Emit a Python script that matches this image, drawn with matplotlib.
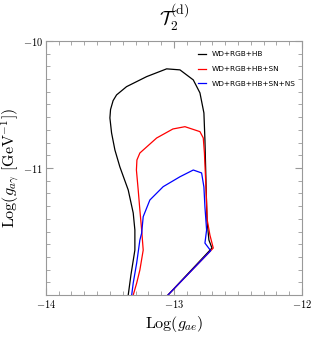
import numpy as np
import matplotlib.pyplot as plt
from matplotlib.ticker import MultipleLocator

plt.rcParams['mathtext.fontset'] = 'cm'
plt.rcParams['font.family'] = 'serif'
plt.rcParams['font.serif'] = ['DejaVu Serif']

# contour traces (Log g_ae, Log g_agamma)
black_x = [-13.357, -13.336, -13.305, -13.305, -13.318, -13.357, -13.422, -13.461, -13.487,
           -13.500, -13.495, -13.475, -13.448, -13.370, -13.213, -13.057, -12.953, -12.849,
           -12.797, -12.766, -12.758, -12.750, -12.742, -12.727, -12.703, -13.047]
black_y = [-12.0, -11.843, -11.646, -11.488, -11.354, -11.173, -10.992, -10.858, -10.724,
           -10.606, -10.540, -10.470, -10.425, -10.360, -10.281, -10.220, -10.228, -10.307,
           -10.409, -10.567, -10.780, -11.094, -11.409, -11.567, -11.630, -12.0]

red_x = [-13.318, -13.291, -13.266, -13.240, -13.252, -13.266, -13.279, -13.293, -13.289,
         -13.266, -13.135, -13.008, -12.914, -12.797, -12.771, -12.762, -12.750, -12.740,
         -12.719, -12.693, -13.047]
red_y = [-12.0, -11.906, -11.803, -11.646, -11.488, -11.331, -11.173, -11.016, -10.937,
         -10.882, -10.764, -10.693, -10.675, -10.714, -10.764, -10.882, -11.150, -11.409,
         -11.528, -11.630, -12.0]

blue_x = [-13.330, -13.318, -13.291, -13.266, -13.252, -13.240, -13.188, -13.084, -12.953,
          -12.849, -12.784, -12.766, -12.758, -12.745, -12.758, -12.713, -13.047]
blue_y = [-12.0, -11.906, -11.748, -11.567, -11.512, -11.383, -11.252, -11.147, -11.069,
          -11.016, -11.039, -11.150, -11.307, -11.488, -11.591, -11.651, -12.0]

labels = ["WD+RGB+HB", "WD+RGB+HB+SN", "WD+RGB+HB+SN+NS"]

fig = plt.figure(figsize=(3.12, 3.38), dpi=100)
ax = fig.add_axes([0.147, 0.127, 0.821, 0.752])

ax.plot(black_x, black_y, color="black", lw=0.9, label=labels[0])
ax.plot(red_x, red_y, color="red", lw=0.9, label=labels[1])
ax.plot(blue_x, blue_y, color="blue", lw=0.9, label=labels[2])

ax.set_xlim(-14, -12)
ax.set_ylim(-12, -10)
ax.set_xticks([-14, -13, -12])
ax.set_yticks([-11, -10])
ax.set_yticklabels(["$-11$", "$-10$"])
ax.set_xticklabels(["$-14$", "$-13$", "$-12$"])
ax.xaxis.set_minor_locator(MultipleLocator(0.1))
ax.yaxis.set_minor_locator(MultipleLocator(0.1))
ax.tick_params(which="both", direction="in", top=True, right=True,
               color="#999999", labelsize=7.5, pad=2)
ax.tick_params(which="major", length=5, width=0.8)
ax.tick_params(which="minor", length=3, width=0.6)
for s in ax.spines.values():
    s.set_color("#999999")
    s.set_linewidth(0.8)

ax.set_xlabel(r"$\mathrm{Log}(g_{ae})$", fontsize=11.5, labelpad=3)
ax.set_ylabel(r"$\mathrm{Log}(g_{a\gamma}\ [\mathrm{GeV}^{-1}])$", fontsize=11.5, labelpad=1)
ax.set_title(r"$\mathcal{T}_2^{(\mathrm{d})}$", fontsize=14, pad=11)

leg = ax.legend(loc="upper right", frameon=False, handlelength=1.2, handletextpad=0.7,
                labelspacing=1.15, prop={"family": "DejaVu Sans", "size": 5.3},
                bbox_to_anchor=(1.0, 0.985))

fig.savefig("out.png", dpi=100)
